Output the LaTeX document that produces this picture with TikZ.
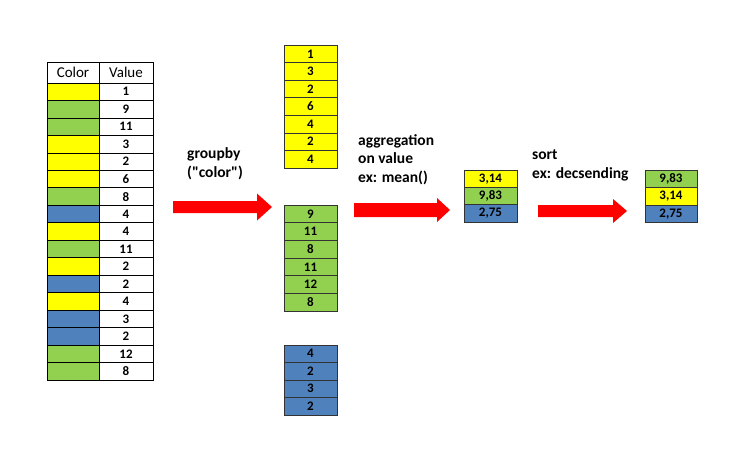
\documentclass[tikz,border=0pt]{standalone}
\usepackage{fontspec}
\setmainfont{Carlito}[Ligatures=TeXOff]
\definecolor{cy}{HTML}{FFFF00}
\definecolor{cg}{HTML}{92D050}
\definecolor{cb}{HTML}{4F81BD}
\definecolor{arr}{HTML}{FF0000}
\begin{document}
\begin{tikzpicture}[x=1pt,y=-1pt,
  cell/.style={draw=black!80, line width=0.7pt, inner sep=0pt, outer sep=0pt,
    anchor=north west, minimum width=53pt, font=\bfseries\fontsize{13}{13}\selectfont},
  lcell/.style={cell, draw=black, minimum height=17.47pt},
  hcell/.style={lcell, minimum height=21pt, font=\fontsize{15}{15}\selectfont},
  lbl/.style={anchor=base west, inner sep=0pt, font=\bfseries\fontsize{15.5}{15.5}\selectfont},
  blockarrow/.style={fill=arr}]
\useasboundingbox (0,0) rectangle (752,448);
% left table
\node[hcell, minimum width=52pt] (hc) at (47,62) {Color};
\node[hcell, minimum width=54pt] (hv) at (99,62) {Value};
\foreach \c/\v [count=\i] in {cy/1,cg/9,cg/11,cy/3,cy/2,cy/6,cg/8,cb/4,cy/4,cg/11,cy/2,cb/2,cy/4,cb/3,cb/2,cg/12,cg/8}{
  \node[lcell, fill=\c, minimum width=52pt] (lc\i) at (47,{83+(\i-1)*17.47}) {};
  \node[lcell, minimum width=54pt] (lv\i) at (99,{83+(\i-1)*17.47}) {\v};
}
% grouped columns
\foreach \v [count=\i] in {1,3,2,6,4,2,4}{
  \node[cell, fill=cy, minimum height=17.57pt] (gy\i) at (284,{45+(\i-1)*17.57}) {\v};
}
\foreach \v [count=\i] in {9,11,8,11,12,8}{
  \node[cell, fill=cg, minimum height=17.67pt] (gg\i) at (284,{205+(\i-1)*17.67}) {\v};
}
\foreach \v [count=\i] in {4,2,3,2}{
  \node[cell, fill=cb, minimum height=17.5pt] (gb\i) at (284,{345+(\i-1)*17.5}) {\v};
}
% aggregated
\foreach \c/\v [count=\i] in {cy/{3,14},cg/{9,83},cb/{2,75}}{
  \node[cell, fill=\c, minimum height=17.4pt] (ra\i) at (464,{170+(\i-1)*17.4}) {\v};
}
% sorted
\foreach \c/\v [count=\i] in {cg/{9,83},cy/{3,14},cb/{2,75}}{
  \node[cell, fill=\c, minimum width=52pt, minimum height=17.5pt] (rs\i) at (645,{170+(\i-1)*17.5}) {\v};
}
% labels
\node[lbl] (t1a) at (187,158) {groupby};
\node[lbl] (t1b) at (187,177) {("color")};
\node[lbl] (t2a) at (358,145) {aggregation};
\node[lbl] (t2b) at (358,163.5) {on value};
\node[lbl] (t2c) at (358,182) {ex: mean()};
\node[lbl] (t3a) at (532,159) {sort};
\node[lbl] (t3b) at (532,178) {ex: decsending};
% block arrows
\fill[blockarrow] (173,201) -- (257,201) -- (257,193.5) -- (272,207) -- (257,220.5) -- (257,213) -- (173,213) -- cycle;
\fill[blockarrow] (354,203) -- (437,203) -- (437,198) -- (450,210) -- (437,222) -- (437,217) -- (354,217) -- cycle;
\fill[blockarrow] (538,205) -- (613,205) -- (613,199) -- (627,211) -- (613,223) -- (613,217) -- (538,217) -- cycle;
\end{tikzpicture}
\end{document}
